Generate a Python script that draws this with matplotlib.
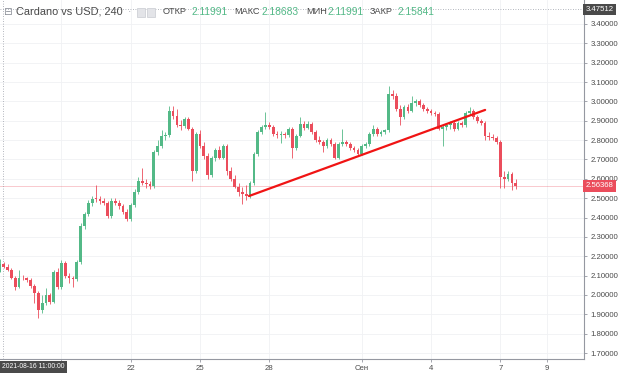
import matplotlib
matplotlib.use("Agg")
import matplotlib.pyplot as plt
import matplotlib.dates as mdates
import matplotlib.transforms as mtransforms
from matplotlib.patches import Rectangle
import numpy as np
import pandas as pd

plt.rcParams['font.family'] = ['Liberation Sans', 'DejaVu Sans']

# 4h candles, ADA/USD, one row = one day (6 candles)
opens = [2.120, 2.158, 2.145, 2.130, 2.090, 2.040,
         2.090, 2.085, 2.075, 2.045, 2.010, 1.920,
         1.960, 2.000, 1.965, 2.120, 2.040, 2.165,
         2.100, 2.090, 2.080, 2.170, 2.355, 2.420,
         2.475, 2.500, 2.495, 2.485, 2.475, 2.410,
         2.485, 2.475, 2.460, 2.430, 2.390, 2.465,
         2.530, 2.590, 2.580, 2.575, 2.565, 2.740,
         2.770, 2.820, 2.825, 2.950, 2.925, 2.880,
         2.875, 2.910, 2.860, 2.640, 2.830, 2.770,
         2.720, 2.620, 2.710, 2.750, 2.710, 2.770,
         2.640, 2.600, 2.560, 2.530, 2.520, 2.510,
         2.580, 2.730, 2.840, 2.870, 2.880, 2.870,
         2.830, 2.825, 2.830, 2.825, 2.860, 2.760,
         2.820, 2.885, 2.865, 2.885, 2.840, 2.800,
         2.790, 2.770, 2.800, 2.780, 2.710, 2.780,
         2.790, 2.780, 2.760, 2.750, 2.730, 2.770,
         2.780, 2.830, 2.860, 2.830, 2.840, 2.850,
         3.040, 3.030, 2.960, 2.920, 2.970, 2.950,
         2.990, 3.000, 2.980, 2.960, 2.950, 2.940,
         2.935, 2.860, 2.870, 2.880, 2.890, 2.860,
         2.890, 2.880, 2.940, 2.950, 2.920, 2.900,
         2.890, 2.820, 2.815, 2.810, 2.790, 2.610,
         2.600, 2.625, 2.580]
highs = [2.187, 2.170, 2.160, 2.140, 2.100, 2.130,
         2.105, 2.095, 2.085, 2.055, 2.020, 2.000,
         2.035, 2.010, 2.130, 2.140, 2.180, 2.175,
         2.115, 2.100, 2.180, 2.370, 2.430, 2.490,
         2.510, 2.570, 2.510, 2.500, 2.485, 2.500,
         2.500, 2.490, 2.470, 2.445, 2.475, 2.545,
         2.610, 2.655, 2.600, 2.590, 2.750, 2.800,
         2.850, 2.840, 2.975, 2.975, 2.960, 2.905,
         2.920, 2.920, 2.870, 2.840, 2.850, 2.790,
         2.735, 2.720, 2.760, 2.770, 2.780, 2.780,
         2.660, 2.620, 2.580, 2.560, 2.570, 2.590,
         2.740, 2.850, 2.880, 2.945, 2.895, 2.880,
         2.845, 2.845, 2.840, 2.870, 2.870, 2.830,
         2.920, 2.900, 2.900, 2.895, 2.850, 2.820,
         2.800, 2.810, 2.810, 2.790, 2.790, 2.860,
         2.800, 2.790, 2.770, 2.760, 2.780, 2.790,
         2.840, 2.880, 2.870, 2.850, 2.860, 3.080,
         3.060, 3.045, 2.980, 2.980, 2.985, 3.030,
         3.010, 3.010, 2.990, 2.970, 2.960, 2.950,
         2.945, 2.880, 2.890, 2.900, 2.900, 2.900,
         2.900, 2.950, 2.970, 2.960, 2.930, 2.910,
         2.900, 2.840, 2.830, 2.820, 2.800, 2.640,
         2.640, 2.635, 2.600]
lows = [2.120, 2.140, 2.125, 2.080, 2.025, 2.035,
        2.075, 2.065, 2.035, 1.960, 1.880, 1.905,
        1.950, 1.955, 1.960, 2.030, 2.030, 2.090,
        2.060, 2.040, 2.070, 2.160, 2.340, 2.410,
        2.460, 2.480, 2.470, 2.465, 2.400, 2.400,
        2.465, 2.445, 2.420, 2.380, 2.380, 2.455,
        2.520, 2.570, 2.555, 2.545, 2.555, 2.725,
        2.760, 2.800, 2.815, 2.910, 2.870, 2.850,
        2.865, 2.850, 2.590, 2.630, 2.760, 2.700,
        2.600, 2.610, 2.690, 2.700, 2.700, 2.620,
        2.590, 2.550, 2.510, 2.470, 2.490, 2.500,
        2.570, 2.720, 2.830, 2.860, 2.860, 2.820,
        2.810, 2.785, 2.810, 2.815, 2.710, 2.750,
        2.815, 2.850, 2.855, 2.830, 2.790, 2.780,
        2.740, 2.760, 2.770, 2.700, 2.700, 2.770,
        2.770, 2.750, 2.740, 2.720, 2.725, 2.760,
        2.770, 2.820, 2.820, 2.820, 2.830, 2.840,
        3.010, 2.950, 2.880, 2.910, 2.940, 2.945,
        2.975, 2.970, 2.950, 2.940, 2.930, 2.925,
        2.850, 2.770, 2.850, 2.860, 2.845, 2.850,
        2.870, 2.870, 2.930, 2.910, 2.890, 2.880,
        2.800, 2.800, 2.800, 2.780, 2.550, 2.550,
        2.590, 2.540, 2.545]
closes = [2.158, 2.145, 2.130, 2.090, 2.040, 2.090,
          2.085, 2.075, 2.045, 2.010, 1.920, 1.960,
          2.000, 1.965, 2.120, 2.040, 2.165, 2.100,
          2.090, 2.080, 2.170, 2.355, 2.420, 2.475,
          2.495, 2.495, 2.485, 2.475, 2.410, 2.485,
          2.475, 2.460, 2.430, 2.390, 2.465, 2.530,
          2.590, 2.580, 2.575, 2.565, 2.740, 2.770,
          2.820, 2.825, 2.950, 2.925, 2.880, 2.875,
          2.910, 2.860, 2.640, 2.830, 2.770, 2.720,
          2.620, 2.710, 2.750, 2.710, 2.770, 2.640,
          2.600, 2.560, 2.530, 2.520, 2.510, 2.580,
          2.730, 2.840, 2.870, 2.880, 2.870, 2.830,
          2.825, 2.830, 2.825, 2.860, 2.760, 2.820,
          2.885, 2.865, 2.885, 2.840, 2.800, 2.790,
          2.770, 2.800, 2.780, 2.710, 2.780, 2.790,
          2.780, 2.760, 2.750, 2.730, 2.770, 2.780,
          2.830, 2.860, 2.830, 2.840, 2.850, 3.040,
          3.030, 2.960, 2.920, 2.970, 2.950, 2.990,
          3.000, 2.980, 2.960, 2.950, 2.940, 2.935,
          2.860, 2.870, 2.880, 2.890, 2.860, 2.890,
          2.880, 2.940, 2.950, 2.920, 2.900, 2.890,
          2.820, 2.815, 2.810, 2.790, 2.610, 2.600,
          2.625, 2.580, 2.56368]

first_candle = '2021-08-16 08:00'
last_price = 2.56368
cross_price = 3.47512
cross_time = '2021-08-16 11:00'
trend_times = ['2021-08-27 02:50', '2021-09-06 08:10']
trend_prices = [2.511, 2.956]
tick_days = ['2021-08-19', '2021-08-22', '2021-08-25', '2021-08-28',
             '2021-09-01', '2021-09-04', '2021-09-07', '2021-09-09']
tick_labels = ['', '22', '25', '28', 'Сен', '4', '7', '9']
header_labels = ['ОТКР', 'МАКС', 'МИН', 'ЗАКР']
header_values = ['2.11991', '2.18683', '2.11991', '2.15841']

UP = '#53b987'
DOWN = '#eb4d5c'
TXT = '#4a4a4a'

times = pd.date_range(first_candle, periods=len(closes), freq='4h')
x = mdates.date2num(times.to_pydatetime())
o = np.array(opens)
c = np.array(closes)
colors = [UP if cc >= oo else DOWN for oo, cc in zip(o, c)]
body = c - o
body = np.where(np.abs(body) < 0.004, np.where(body >= 0, 0.004, -0.004), body)

fig = plt.figure(figsize=(6.2, 3.74), dpi=100)
ax = fig.add_axes([0, 15 / 374, 584 / 620, 359 / 374])

ax.vlines(x, lows, highs, colors=colors, lw=0.6, zorder=2)
ax.bar(x, body, bottom=o, width=0.12, color=colors, zorder=3, linewidth=0)

ax.axhline(last_price, color=DOWN, lw=0.6, alpha=0.35, zorder=1)
ax.plot(mdates.date2num(pd.to_datetime(trend_times).to_pydatetime()), trend_prices,
        color='#f01414', lw=1.6, zorder=4, solid_capstyle='round')

# crosshair
ax.axhline(cross_price, color='#9a9ea8', lw=0.6, ls=(0, (1, 2)), zorder=1)
ax.axvline(mdates.date2num(pd.Timestamp(cross_time)), color='#9a9ea8', lw=0.6,
           ls=(0, (1, 2)), zorder=1)

day0 = mdates.date2num(pd.Timestamp('2021-08-16'))
ax.set_xlim(day0 + 0.342, day0 + 25.62)
ax.set_ylim(1.669, 3.524)

ax.set_yticks(np.arange(1.7, 3.45, 0.1))
ax.yaxis.set_major_formatter(matplotlib.ticker.FormatStrFormatter('%.5f'))
ax.yaxis.tick_right()
ax.set_xticks(mdates.date2num(pd.to_datetime(tick_days).to_pydatetime()))
ax.set_xticklabels(tick_labels)
ax.tick_params(axis='both', labelsize=5.6, colors='#9598a1', labelcolor=TXT,
               length=2.5, width=0.6, pad=2)
ax.grid(color='#f0f1f4', lw=0.6, zorder=0)
ax.set_axisbelow(True)
for s in ['left', 'top']:
    ax.spines[s].set_visible(False)
for s in ['right', 'bottom']:
    ax.spines[s].set_color('#9598a1')
    ax.spines[s].set_linewidth(0.8)

blend = mtransforms.blended_transform_factory(ax.transAxes, ax.transData)
ax.text(1.003, last_price, '%.5f' % last_price, transform=blend, color='white',
        fontsize=5.6, va='center', ha='left', zorder=6,
        bbox=dict(boxstyle='square,pad=0.3', fc=DOWN, ec='none'))
ax.text(1.003, cross_price, '%.5f' % cross_price, transform=blend, color='white',
        fontsize=5.6, va='center', ha='left', zorder=6,
        bbox=dict(boxstyle='square,pad=0.3', fc='#4a4a4a', ec='none'))
fig.text(2 / 620, 1 - 367 / 374, pd.Timestamp(cross_time).strftime('%Y-%m-%d %H:%M:%S'),
         color='white', fontsize=4.9, va='center', ha='left',
         bbox=dict(boxstyle='square,pad=0.35', fc='#4a4a4a', ec='none'))

# header
hy = 1 - 12 / 374
fig.text(3 / 620, hy, '⊟', fontsize=7.5, color='#8a8e97', va='center', family='DejaVu Sans')
fig.text(16 / 620, hy, 'Cardano vs USD, 240', fontsize=7.9, color=TXT, va='center')
fig.text(128 / 620, hy, '·', fontsize=7.4, color='#9598a1', va='center')
for ix in [137, 147]:
    fig.patches.append(Rectangle((ix / 620, hy - 4.5 / 374), 8 / 620, 9 / 374,
                                 transform=fig.transFigure, fc='#e3e4e8', ec='#c9cbd1', lw=0.5))
label_x = [163, 234, 306, 370]
value_x = [191, 262, 328, 398]
for lx, vx, lab, val in zip(label_x, value_x, header_labels, header_values):
    fig.text(lx / 620, hy, lab, fontsize=6.6, color=TXT, va='center')
    fig.text(vx / 620, hy, val, fontsize=7.4, color=UP, va='center')

fig.savefig('out.png', dpi=100)
